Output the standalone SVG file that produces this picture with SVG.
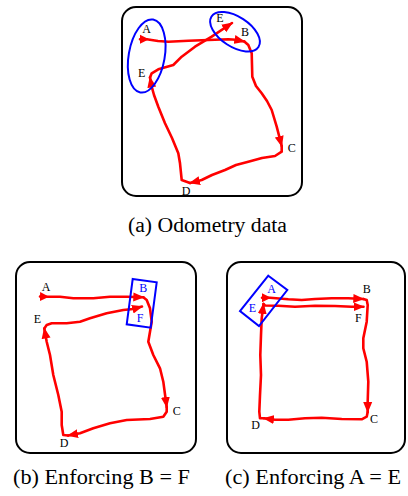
<svg xmlns="http://www.w3.org/2000/svg" width="408" height="496" viewBox="0 0 408 496">
<defs>
<marker id="tip" markerUnits="userSpaceOnUse" markerWidth="12" markerHeight="10" refX="10" refY="5" orient="auto" viewBox="0 0 12 10">
<path d="M0,0.5 L11,5 L0,9.5 z" fill="#ff0000"/>
</marker>
<marker id="start" markerUnits="userSpaceOnUse" markerWidth="12" markerHeight="10" refX="0" refY="5" orient="auto" viewBox="0 0 12 10">
<path d="M0,0.5 L9,5 L0,9.5 z" fill="#ff0000"/>
</marker>
</defs>
<style>
.frame{fill:#fff;stroke:#000;stroke-width:2}
.trk{fill:none;stroke:#ff0000;stroke-width:2.6;stroke-linejoin:round;stroke-linecap:round}
.arr{marker-end:url(#tip)}
.st{marker-start:url(#start)}
.lbl{font-size:12px;fill:#000;text-anchor:middle}
.blue{fill:#0000ff}
.cons{fill:none;stroke:#0000ff;stroke-width:2}
.cap{font-size:20px;fill:#000}
</style>

<g id="panel-a" font-family="'Liberation Serif', 'DejaVu Serif', serif">
<rect class="frame" x="122" y="7" width="180" height="189" rx="14"/>
<g id="connectors-a">
<path class="trk st arr" d="M140,39.3 L146.7,39.3 L158,41 L168.3,41.7 L188.3,40.7 L208.3,40 L228.3,39.3 L236,39.8 L244.3,41.5"/>
<path class="trk arr" d="M244.3,41.5 L248.3,45 L251.7,53.3 L252,65 L252.3,76.7 L256,86 L261.7,93.3 L267,101 L271.7,110 L276.7,126.7 L281.7,146"/>
<path class="trk arr" d="M281.7,146 L281.7,151.7 L275,156 L262,158 L248.3,161.7 L236,165 L225,170 L212,175 L201.7,180 L190,183"/>
<path class="trk arr" d="M190,183 L181.7,180 L180,163.3 L178.3,153.3 L172,138 L165,123.3 L158.3,106.7 L154,95 L151.7,86.7 L150,77.5"/>
<path class="trk arr" d="M150,77.5 L151.7,73.3 L158.3,69.3 L173.3,65 L181.7,56.7 L195,46.7 L211.7,36.7 L232,23"/>
</g>
<g id="nodes-a">
<text class="lbl" x="146.7" y="33.3">A</text>
<text class="lbl" x="245" y="36">B</text>
<text class="lbl" x="291.7" y="151.7">C</text>
<text class="lbl" x="186" y="195">D</text>
<text class="lbl" x="141.7" y="77.3">E</text>
<text class="lbl" x="220" y="21.7">E</text>
<ellipse class="cons" cx="146.7" cy="56" rx="18" ry="37" transform="rotate(10 146.7 56)"/>
<ellipse class="cons" cx="235" cy="31.7" rx="28" ry="15" transform="rotate(33 235 31.7)"/>
</g>
<text class="cap" x="128" y="232" textLength="159" lengthAdjust="spacingAndGlyphs">(a)  Odometry data</text>
</g>

<g id="panel-b" font-family="'Liberation Serif', 'DejaVu Serif', serif">
<rect class="frame" x="16" y="262" width="180" height="191" rx="14"/>
<g id="connectors-b">
<path class="trk st arr" d="M40,296.5 L46.7,296.7 L60,296.7 L73.3,298.3 L93.3,298.3 L110,296.7 L126.7,296.7 L143.3,297.3"/>
<path class="trk arr" d="M143.3,297.3 L146.7,300 L150,308.3 L151.7,321.7 L150,331.7 L148.3,341.7 L153.3,355 L160,368.3 L163.3,381.7 L166.7,407"/>
<path class="trk arr" d="M166.7,407 L166.7,411.7 L163.3,416.7 L150,419 L126.7,420 L110,423.3 L93.3,428.3 L80,433.3 L68,435.5"/>
<path class="trk arr" d="M68,435.5 L63.3,435 L61.7,425 L61.7,411.7 L58.3,395 L53.3,375 L50,355 L46.7,341.7 L44.3,328.5"/>
<path class="trk arr" d="M44.3,328.5 L46.7,325 L51.7,323.3 L66.7,323.3 L80,321.7 L90,318.3 L106.7,313.3 L123.3,310 L133.3,309 L142,306.5"/>
</g>
<g id="nodes-b">
<text class="lbl" x="46" y="291">A</text>
<text class="lbl blue" x="143.3" y="292.3">B</text>
<text class="lbl" x="176.7" y="415">C</text>
<text class="lbl" x="64" y="446.7">D</text>
<text class="lbl" x="37.3" y="323.3">E</text>
<text class="lbl blue" x="140" y="321.7">F</text>
<polygon class="cons" points="132.7,279 156.7,282.3 150.7,327.7 126.7,324.3"/>
</g>
<text class="cap" x="13" y="484" textLength="177" lengthAdjust="spacingAndGlyphs">(b)  Enforcing B = F</text>
</g>

<g id="panel-c" font-family="'Liberation Serif', 'DejaVu Serif', serif">
<rect class="frame" x="227" y="262" width="178" height="191" rx="14"/>
<g id="connectors-c">
<path class="trk st arr" d="M262,297.7 L270,297.7 L288.3,299.3 L301.7,300 L315,299 L331.7,298.3 L348.3,298.3 L363.3,299"/>
<path class="trk arr" d="M363.3,299 L366.7,300 L367.7,305 L366.7,321.7 L363.3,338.3 L363.3,348.3 L366.7,361.7 L368.3,381.7 L367.7,401.7 L367.7,412"/>
<path class="trk arr" d="M367.7,412 L366.7,416.7 L361.7,419.3 L341.7,419 L321.7,417.7 L305,418.3 L288.3,419.7 L275,419.7 L264,418.3"/>
<path class="trk arr" d="M264,418.3 L260,418.3 L259.3,411.7 L260,395 L261,375 L260.3,355 L261,335 L261.7,318.3 L263.5,304"/>
<path class="trk arr" d="M263.5,304 L265,305.5 L278.3,305.7 L295,306.7 L315,305.7 L335,306 L351.7,306.7 L363.5,306.7"/>
</g>
<g id="nodes-c">
<text class="lbl blue" x="271.7" y="292.7">A</text>
<text class="lbl" x="366.7" y="293.3">B</text>
<text class="lbl" x="374" y="422.7">C</text>
<text class="lbl" x="255.7" y="429">D</text>
<text class="lbl blue" x="252.5" y="312.3">E</text>
<text class="lbl" x="358.3" y="321.7">F</text>
<polygon class="cons" points="268.3,275.7 287.3,290 259,326 240,311"/>
</g>
<text class="cap" x="225" y="484" textLength="176" lengthAdjust="spacingAndGlyphs">(c)  Enforcing A = E</text>
</g>
</svg>
